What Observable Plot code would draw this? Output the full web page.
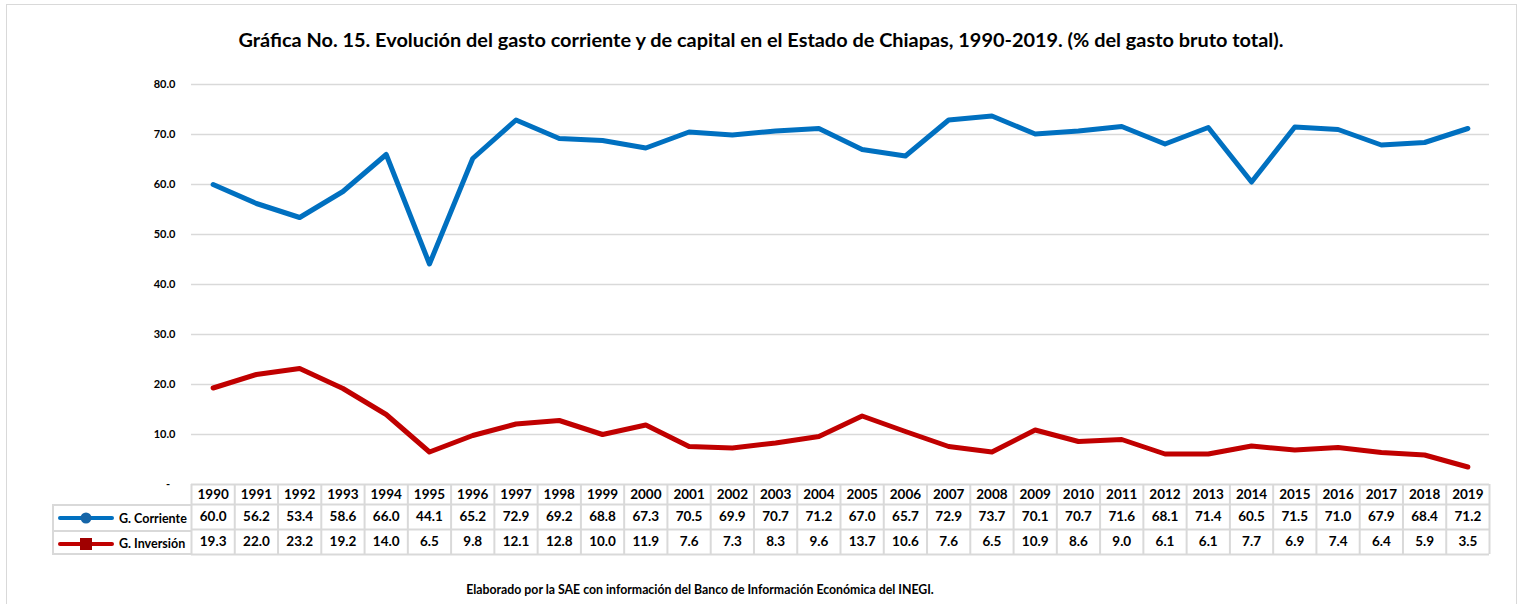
<!DOCTYPE html>
<html><head><meta charset="utf-8">
<script src="https://cdn.jsdelivr.net/npm/d3@7"></script>
<script src="https://cdn.jsdelivr.net/npm/@observablehq/plot@0.6"></script>
<style>
html,body{margin:0;padding:0;background:#fff;}
body{font-family:Lato,"Open Sans",sans-serif;}
#wrap{position:relative;width:1522px;height:604px;overflow:hidden;background:#fff;}
#frame{position:absolute;left:6px;top:4px;width:1511px;height:620px;border:1.5px solid #d9d9d9;box-sizing:border-box;}
#title{position:absolute;left:0;width:1522px;top:27px;text-align:center;font-weight:700;font-size:19.9px;color:#000;white-space:nowrap;}
#caption{position:absolute;left:0;width:1400px;top:582px;text-align:center;font-weight:700;font-size:12.3px;color:#000;white-space:nowrap;}
#chart{position:absolute;left:0;top:0;}
#legend{position:absolute;left:52px;top:504px;width:140px;height:51px;border:2px solid #d9d9d9;border-right:none;box-sizing:border-box;}
.lrow{position:absolute;left:0;width:138px;height:25px;display:flex;align-items:center;font-weight:700;font-size:12.5px;color:#000;}
.lrow svg{margin-left:4px;margin-right:5px;}
</style></head>
<body>
<div id="wrap">
  <div id="frame"></div>
  <div id="chart"></div>
  <div id="title">Gráfica No. 15. Evolución del gasto corriente y de capital en el Estado de Chiapas, 1990-2019. (% del gasto bruto total).</div>
  <div id="legend">
    <div class="lrow" style="top:0;border-bottom:2px solid #d9d9d9;height:24px;">
      <svg width="56" height="12"><line x1="2" y1="6" x2="54" y2="6" stroke="#0070C0" stroke-width="4" stroke-linecap="round"/><circle cx="28" cy="6" r="5.5" fill="#1565a8"/></svg>G. Corriente</div>
    <div class="lrow" style="top:25px;">
      <svg width="56" height="14"><line x1="2" y1="7" x2="54" y2="7" stroke="#C00000" stroke-width="4" stroke-linecap="round"/><rect x="22" y="1" width="12" height="12" fill="#a00000"/></svg>G. Inversión</div>
  </div>
  <div id="caption">Elaborado por la SAE con información del Banco de Información Económica del INEGI.</div>
</div>
<script>
const years = d3.range(1990, 2020);
const corriente = [60.0,56.2,53.4,58.6,66.0,44.1,65.2,72.9,69.2,68.8,67.3,70.5,69.9,70.7,71.2,67.0,65.7,72.9,73.7,70.1,70.7,71.6,68.1,71.4,60.5,71.5,71.0,67.9,68.4,71.2];
const inversion = [19.3,22.0,23.2,19.2,14.0,6.5,9.8,12.1,12.8,10.0,11.9,7.6,7.3,8.3,9.6,13.7,10.6,7.6,6.5,10.9,8.6,9.0,6.1,6.1,7.7,6.9,7.4,6.4,5.9,3.5];
const seriesNames = ["G. Corriente","G. Inversión"];
const seriesColors = ["#0070C0","#C00000"];
const yTicks = [0,10,20,30,40,50,60,70,80];

const data = [
  ...years.map((y,i)=>({year:y, value:corriente[i], series:seriesNames[0]})),
  ...years.map((y,i)=>({year:y, value:inversion[i], series:seriesNames[1]}))
];

const x0 = years[0]-0.5, x1 = years[years.length-1]+0.5;
const edges = years.map(y=>y-0.5).concat([x1]);
// table rows expressed in y units below zero
const rowEdges = [0,-4,-9,-14];
const rowCenters = {year:-2, corr:-6.5, inv:-11.5};
const gridStroke = "#d9d9d9";
const cellFont = 13.5;

const chart = Plot.plot({
  width: 1522,
  height: 604,
  marginTop: 84,
  marginBottom: 120,
  marginLeft: 191,
  marginRight: 33,
  style:{fontFamily:"Lato, 'Open Sans', sans-serif", background:"transparent", overflow:"visible"},
  x:{domain:[x0,x1], axis:null},
  y:{domain:[0,80], axis:null},
  color:{domain:seriesNames, range:seriesColors},
  marks:[
    Plot.ruleY(yTicks.filter(d=>d>0), {x1:x0, x2:x1, stroke:gridStroke, strokeWidth:1.5}),
    Plot.ruleY(rowEdges, {x1:x0, x2:x1, stroke:gridStroke, strokeWidth:2}),
    Plot.ruleX(edges, {y1:0, y2:-14, stroke:gridStroke, strokeWidth:2}),
    Plot.axisY({ticks:yTicks, label:null, tickSize:0, tickPadding:16, fontSize:11, fontWeight:"bold", fill:"#000",
      tickFormat:d=> d===0 ? "-\u00a0\u00a0" : d.toFixed(1)}),
    Plot.text(years, {x:d=>d, y:rowCenters.year, text:d=>String(d), fontSize:cellFont, fontWeight:"bold", fill:"#000"}),
    Plot.text(years, {x:d=>d, y:rowCenters.corr, text:(d,i)=>corriente[i].toFixed(1), fontSize:cellFont, fontWeight:"bold", fill:"#000"}),
    Plot.text(years, {x:d=>d, y:rowCenters.inv, text:(d,i)=>inversion[i].toFixed(1), fontSize:cellFont, fontWeight:"bold", fill:"#000"}),
    Plot.line(data, {x:"year", y:"value", stroke:"series", strokeWidth:5, strokeLinejoin:"round", strokeLinecap:"round"})
  ]
});
document.getElementById("chart").appendChild(chart);
</script>
</body></html>
